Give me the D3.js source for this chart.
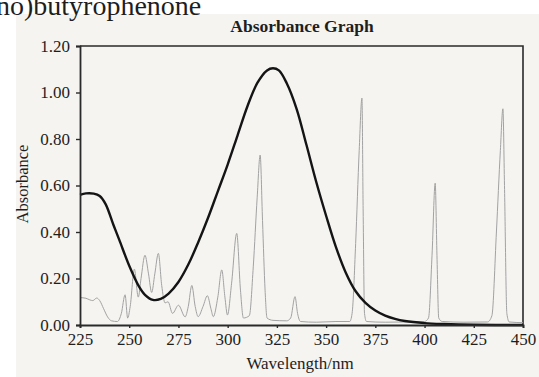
<!DOCTYPE html>
<html>
<head>
<meta charset="utf-8">
<script src="https://cdn.jsdelivr.net/npm/d3@7"></script>
<style>
  html, body { margin: 0; padding: 0; background: #ffffff; }
  svg { display: block; }
  text { font-family: "Liberation Serif", "Times New Roman", serif; fill: #1e1e1e; }
</style>
</head>
<body>
<svg id="chart" width="539" height="377"></svg>
<script>
// Broad absorbance band: wavelength (nm) and absorbance
const bandWavelength = [225, 228, 232, 235, 238, 242, 245, 250, 255, 258, 262, 266, 270, 275, 280, 285, 290, 295, 300, 305, 310, 315, 320, 323, 326, 330, 335, 340, 345, 350, 355, 360, 365, 370, 375, 380, 385, 390, 400, 410, 425, 450];
const bandAbsorbance = [0.560, 0.566, 0.565, 0.555, 0.520, 0.430, 0.365, 0.255, 0.165, 0.130, 0.108, 0.112, 0.135, 0.185, 0.260, 0.355, 0.460, 0.575, 0.690, 0.815, 0.940, 1.040, 1.095, 1.104, 1.095, 1.040, 0.930, 0.775, 0.615, 0.470, 0.335, 0.225, 0.145, 0.095, 0.062, 0.040, 0.026, 0.017, 0.008, 0.004, 0.001, 0.000];

// Line spectrum: wavelength (nm) and absorbance
const lineWavelength = [225, 228, 230, 231.5, 233.5, 235, 237, 239, 241, 244, 246, 247.9, 249.2, 250.5, 252.6, 254.6, 256, 258, 259.8, 261.4, 263, 264.8, 266.5, 268.2, 269.7, 272, 275, 278.4, 280, 281.8, 283.5, 285, 287.5, 289.7, 291.5, 292.7, 295, 297, 298.6, 299.9, 302, 304.6, 306.5, 308, 311, 313, 315, 316.5, 317.7, 319, 320, 323, 330, 332, 334.2, 335.5, 337, 345, 355, 362, 363.2, 365, 366.8, 368.2, 368.8, 369.5, 370.5, 380, 390, 400, 402, 403.8, 405.4, 406.3, 407.2, 409, 420, 432, 434.2, 436.5, 438.5, 439.8, 440.6, 441.8, 443, 450];
const lineAbsorbance = [0.118, 0.115, 0.108, 0.105, 0.116, 0.105, 0.070, 0.035, 0.018, 0.015, 0.050, 0.130, 0.030, 0.080, 0.240, 0.120, 0.200, 0.300, 0.220, 0.140, 0.220, 0.308, 0.170, 0.095, 0.100, 0.050, 0.085, 0.035, 0.080, 0.170, 0.080, 0.036, 0.080, 0.126, 0.070, 0.036, 0.120, 0.237, 0.120, 0.043, 0.180, 0.394, 0.150, 0.030, 0.040, 0.250, 0.550, 0.731, 0.450, 0.150, 0.030, 0.020, 0.018, 0.030, 0.122, 0.050, 0.015, 0.012, 0.015, 0.015, 0.050, 0.350, 0.750, 0.976, 0.500, 0.050, 0.015, 0.012, 0.013, 0.015, 0.030, 0.300, 0.610, 0.300, 0.030, 0.015, 0.012, 0.013, 0.040, 0.400, 0.750, 0.930, 0.600, 0.050, 0.013, 0.010];

// Axis ticks
const xTicks = [225, 250, 275, 300, 325, 350, 375, 400, 425, 450];
const yTicks = [0, 0.2, 0.4, 0.6, 0.8, 1.0, 1.2];

const svg = d3.select("#chart");
const W = 539, H = 377;
const m = { left: 80, right: 16, top: 46, bottom: 52 };

// Printed page area
svg.append("rect").attr("x", 16).attr("y", 14).attr("width", W - 16).attr("height", H - 14)
  .attr("fill", "#f5f4f1");

// Running header of the page, trimmed by the top edge
svg.append("text").attr("x", -4).attr("y", 15)
  .style("font-size", "28px").text("no)butyrophenone");

const x = d3.scaleLinear().domain([225, 450]).range([m.left, W - m.right]);
const y = d3.scaleLinear().domain([0, 1.2]).range([H - m.bottom, m.top]);

// Frame (top and right edges)
svg.append("path")
  .attr("d", `M${x(225)},${y(1.2)}H${x(450)}V${y(0)}`)
  .attr("fill", "none").attr("stroke", "#2a2a2a").attr("stroke-width", 1.6);

// Line spectrum
const lineData = lineWavelength.map((w, i) => [w, lineAbsorbance[i]]);
svg.append("path")
  .datum(lineData)
  .attr("fill", "none").attr("stroke", "#a2a2a2").attr("stroke-width", 1)
  .attr("d", d3.line().x(d => x(d[0])).y(d => y(d[1])).curve(d3.curveMonotoneX));

// Absorbance band
const bandData = bandWavelength.map((w, i) => [w, bandAbsorbance[i]]);
svg.append("path")
  .datum(bandData)
  .attr("fill", "none").attr("stroke", "#141414").attr("stroke-width", 2.4)
  .attr("stroke-linejoin", "round")
  .attr("d", d3.line().x(d => x(d[0])).y(d => y(d[1])).curve(d3.curveCatmullRom.alpha(0.5)));

// Axes
const yAxis = svg.append("g").attr("transform", `translate(${m.left},0)`)
  .call(d3.axisLeft(y).tickValues(yTicks).tickFormat(d3.format(".2f")).tickSize(4).tickPadding(6));
const xAxis = svg.append("g").attr("transform", `translate(0,${y(0)})`)
  .call(d3.axisBottom(x).tickValues(xTicks).tickFormat(d3.format("d")).tickSize(3).tickPadding(5));

[yAxis, xAxis].forEach(g => {
  g.select(".domain").attr("stroke", "#2a2a2a").attr("stroke-width", 1.8);
  g.selectAll(".tick line").attr("stroke", "#2a2a2a").attr("stroke-width", 1.4);
  g.selectAll(".tick text").style("font-size", "17px").style("font-family", "'Liberation Serif', serif").attr("fill", "#1e1e1e");
});

// Title and axis titles
svg.append("text").attr("x", 302).attr("y", 32).attr("text-anchor", "middle")
  .style("font-size", "17.5px").style("font-weight", "bold").text("Absorbance Graph");
svg.append("text").attr("x", 300).attr("y", 369).attr("text-anchor", "middle")
  .style("font-size", "17px").text("Wavelength/nm");
svg.append("text").attr("transform", "translate(28,184) rotate(-90)").attr("text-anchor", "middle")
  .style("font-size", "16.5px").text("Absorbance");
</script>
</body>
</html>
